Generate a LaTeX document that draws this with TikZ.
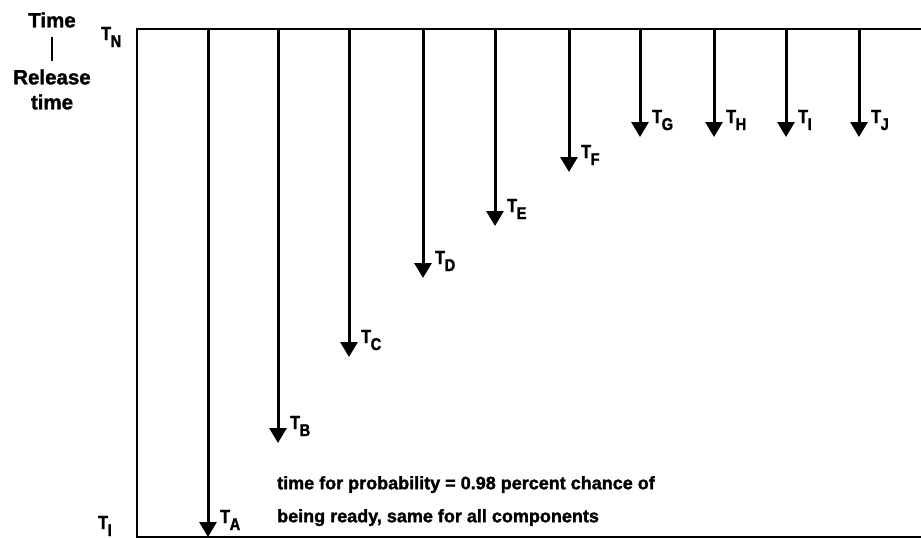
\documentclass[tikz,border=0pt]{standalone}
\usepackage{fontspec}
\setmainfont{Liberation Sans}[BoldFeatures={FakeBold=1.6}]
\newfontfamily\condfont{Liberation Sans}[FakeStretch=0.85,BoldFeatures={FakeBold=1.8}]
\usetikzlibrary{arrows.meta}
\newcommand\Tlab[1]{T\kern-0.3pt\raisebox{-7pt}{\fontsize{17}{17}\selectfont #1}}
\tikzset{
  frame/.style={line width=2pt},
  arr/.style={line width=3pt,-{Triangle[width=17pt,length=15pt]},shorten >=0pt},
  lab/.style={font=\condfont\fontsize{19}{19}\selectfont\bfseries,inner sep=0pt,anchor=base west},
  txt/.style={font=\fontsize{18}{33}\selectfont\bfseries,inner sep=0pt,align=left,anchor=north west},
  side/.style={font=\fontsize{20.5}{20}\selectfont\bfseries,inner sep=0pt,align=center}
}
\begin{document}
\begin{tikzpicture}[x=1pt,y=-1pt]
\useasboundingbox (0,0) rectangle (921,538);
% frame
\coordinate (fTR) at (921,29);
\coordinate (fTL) at (137,29);
\coordinate (fBL) at (137,537);
\coordinate (fBR) at (921,537);
\draw[frame] (fTR) -- (fTL) -- (fBL) -- (fBR);
% arrows
\foreach \n/\x/\y in {A/208/537,B/278/443,C/349/357,D/423/278,E/495/226,F/569/172,G/640/137,H/714/137,I/786/137,J/859/137}{
  \coordinate (s\n) at (\x,29);
  \coordinate (t\n) at (\x,\y);
  \draw[arr] (s\n) -- (t\n);
  \node[lab] (l\n) at (\x+12,\y-14) {\Tlab{\n}};
}
% side labels
\node[lab] (lN) at (101,40) {\Tlab{N}};
\node[lab] (lI) at (98,529) {\Tlab{I}};
\node[side] (time1) at (52,20) {Time};
\node[side] (rel) at (52,77) {Release};
\node[side] (time2) at (52,102) {time};
\draw[line width=1.5pt] (52,37) coordinate (bar1) -- (52,61) coordinate (bar2);
% note
\node[txt] (note) at (277,476) {time for probability = 0.98 percent chance of\\being ready, same for all components};
\end{tikzpicture}
\end{document}
